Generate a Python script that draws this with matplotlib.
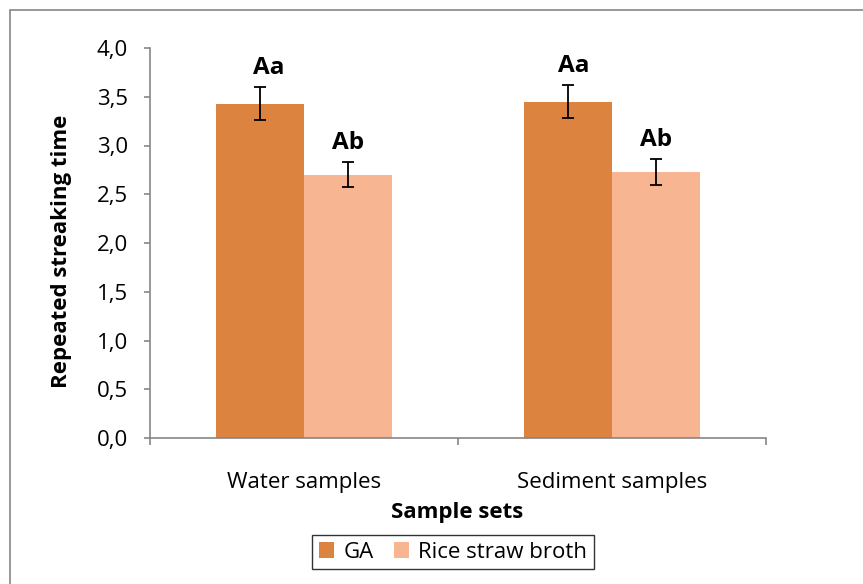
import matplotlib
matplotlib.use("Agg")
import matplotlib.pyplot as plt
import numpy as np
from matplotlib.patches import Rectangle

# data
categories = ["Water samples", "Sediment samples"]
series_names = ["GA", "Rice straw broth"]
ga_vals = [3.43, 3.45]
ga_err = [0.17, 0.17]
rice_vals = [2.70, 2.73]
rice_err = [0.13, 0.13]
ga_letters = ["Aa", "Aa"]
rice_letters = ["Ab", "Ab"]
yticks = [0.0, 0.5, 1.0, 1.5, 2.0, 2.5, 3.0, 3.5, 4.0]

ga_color = "#DC843F"
rice_color = "#F8B592"
axis_gray = "#868686"

plt.rcParams["font.family"] = ["Open Sans", "DejaVu Sans"]
fs = 16

W, H = 863, 584
fig = plt.figure(figsize=(W / 100, H / 100), dpi=100)
ax = fig.add_axes([150 / W, 1 - 438 / H, (766 - 150) / W, (438 - 48) / H])

x = np.arange(len(categories))
bw = 88 / 308
b1 = ax.bar(x - bw / 2, ga_vals, bw, color=ga_color, label=series_names[0], zorder=2)
b2 = ax.bar(x + bw / 2, rice_vals, bw, color=rice_color, label=series_names[1], zorder=2)
ekw = dict(fmt="none", ecolor="black", elinewidth=1.3, capsize=4.2, capthick=1.3, zorder=3)
ax.errorbar(x - bw / 2, ga_vals, yerr=ga_err, **ekw)
ax.errorbar(x + bw / 2, rice_vals, yerr=rice_err, **ekw)

# letter labels (the "Aa" boxes sit a little right of the bar centre in the original)
aa_shift = [6, 4]
for i in range(len(categories)):
    ax.annotate(ga_letters[i], (x[i] - bw / 2, ga_vals[i] + ga_err[i] + 0.135),
                xytext=(aa_shift[i], 0), textcoords="offset points",
                ha="center", va="baseline", fontsize=17.5, fontweight="bold")
    ax.annotate(rice_letters[i], (x[i] + bw / 2, rice_vals[i] + rice_err[i] + 0.135),
                xytext=(0, 0), textcoords="offset points",
                ha="center", va="baseline", fontsize=17.5, fontweight="bold")

ax.set_xlim(-0.5, 1.5)
ax.set_ylim(0, 4.0)
ax.set_yticks(yticks)
ax.set_yticklabels([("%.1f" % v).replace(".", ",") for v in yticks], fontsize=fs)
ax.set_xticks(x)
ax.set_xticklabels(categories, fontsize=fs)
ax.set_xticks([-0.5, 0.5, 1.5], minor=True)
ax.tick_params(axis="x", which="major", length=0, pad=24.5)
ax.tick_params(axis="x", which="minor", length=5, color=axis_gray, width=1.2)
ax.tick_params(axis="y", length=4, color=axis_gray, width=1.2, pad=12)

for s in ["top", "right"]:
    ax.spines[s].set_visible(False)
for s in ["left", "bottom"]:
    ax.spines[s].set_color(axis_gray)
    ax.spines[s].set_linewidth(1.2)

fig.text(62 / W, 1 - 251 / H, "Repeated streaking time", rotation=90, fontsize=fs,
         fontweight="bold", ha="center", va="center")
fig.text(457 / W, 1 - 518 / H, "Sample sets", fontsize=fs, fontweight="bold",
         ha="center", va="baseline")

leg = fig.legend(handles=[b1, b2], loc="center", bbox_to_anchor=(453 / W, 1 - 552 / H),
                 ncol=2, fontsize=fs, frameon=True, fancybox=False,
                 handlelength=0.7, handleheight=0.7, handletextpad=0.4,
                 columnspacing=0.9, borderpad=0.3, borderaxespad=0)
leg.get_frame().set_edgecolor("black")
leg.get_frame().set_linewidth(1.0)

# outer chart border (only top and left visible in the crop)
fig.patches.append(Rectangle((10 / W, -0.1), 1.2, 1.1 - 10 / H, transform=fig.transFigure,
                             fill=False, edgecolor=axis_gray, linewidth=1.2))

fig.savefig("out.png", dpi=100)
